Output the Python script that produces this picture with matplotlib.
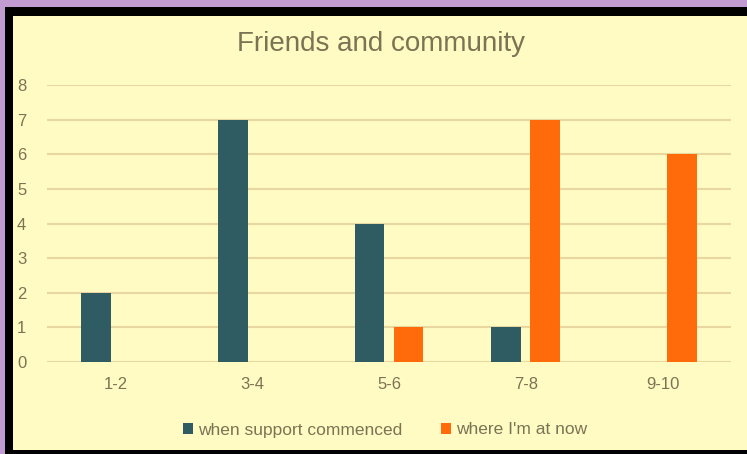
import matplotlib
matplotlib.use("Agg")
import matplotlib.pyplot as plt
import numpy as np
from matplotlib.patches import Rectangle

plt.rcParams['font.family'] = ['Liberation Sans', 'DejaVu Sans']

categories = ["1-2", "3-4", "5-6", "7-8", "9-10"]
series_names = ["when support commenced", "where I'm at now"]
before = [2, 7, 4, 1, 0]
now = [0, 0, 1, 7, 6]
y_ticks = [0, 1, 2, 3, 4, 5, 6, 7, 8]

teal = "#2f5b63"
orange = "#ff6a0a"
panel = "#fffbc2"
text_col = "#7a7455"
grid_col = "#e8d8a0"

W, H = 747, 454
fig = plt.figure(figsize=(W / 100, H / 100), dpi=100)
fig.patch.set_facecolor("#c19bd1")

# frame layers in figure pixels
def frect(x0, y0_top, x1, y1_top, color):
    fig.patches.append(Rectangle((x0 / W, 1 - y1_top / H), (x1 - x0) / W,
                                 (y1_top - y0_top) / H, transform=fig.transFigure,
                                 facecolor=color, edgecolor="none", zorder=-10))

frect(5, 7, W, H, "#000000")
frect(13, 16, W, 450, panel)

ax = fig.add_axes([47 / W, 92 / H, (731 - 47) / W, (362 - 85) / H])
ax.set_facecolor("none")

x = np.arange(len(categories))
w = 0.219
off = 0.1426
ax.bar(x - off, before, width=w, color=teal, label=series_names[0], zorder=3)
ax.bar(x + off, now, width=w, color=orange, label=series_names[1], zorder=3)

ax.set_xlim(-0.5, len(categories) - 0.5)
ax.set_ylim(0, 8)
ax.set_yticks(y_ticks)
ax.set_xticks(x)
ax.set_xticklabels(categories)
ax.tick_params(axis="both", length=0, colors=text_col, labelsize=12)
ax.tick_params(axis="y", pad=15)
ax.tick_params(axis="x", pad=11)
ax.grid(axis="y", color=grid_col, linewidth=1.5, zorder=0)
for s in ax.spines.values():
    s.set_visible(False)

fig.text(381 / W, 1 - 44 / H, "Friends and community", ha="center", va="center",
         fontsize=20, color=text_col)

leg = fig.legend(loc="center", bbox_to_anchor=(385 / W, 1 - 430 / H), ncol=2,
                 frameon=False, fontsize=12.5, handlelength=0.6, handleheight=0.6,
                 handletextpad=0.3, columnspacing=2.2)
for t in leg.get_texts():
    t.set_color(text_col)

fig.savefig("out.png", dpi=100, facecolor=fig.get_facecolor())
